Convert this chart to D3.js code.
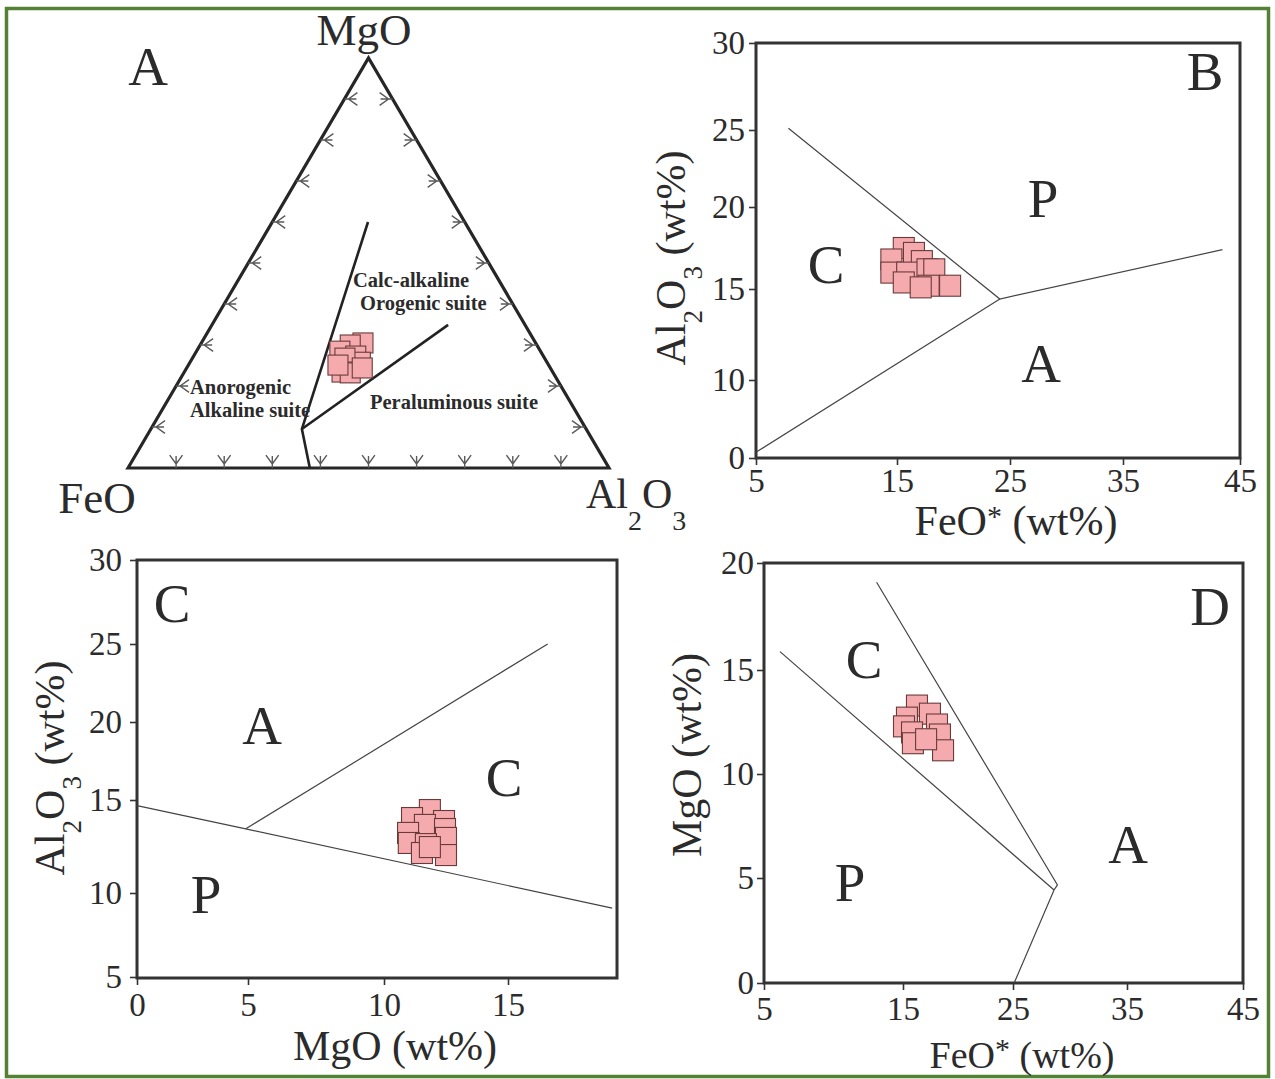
<!DOCTYPE html>
<html><head><meta charset="utf-8">
<script src="https://cdn.jsdelivr.net/npm/d3@7"></script>
<style>
body{margin:0;background:#fff}
svg{display:block}
text{font-family:"Liberation Serif","Times New Roman",serif;fill:#2b2b2b}
</style>
</head><body>
<svg id="c" width="1275" height="1079"></svg>
<script>
// ---------------- DATA ----------------
// Panel A: ternary FeO - MgO - Al2O3 (percent)
const ternFeO   = [35.9, 38.8, 41.7, 39.0, 38.8, 41.5, 43.8, 42.2, 39.1, 43.8];
const ternMgO   = [30.5, 30.0, 28.5, 27.3, 25.8, 26.8, 23.4, 23.2, 24.4, 25.1];
const ternAl2O3 = [33.6, 31.2, 29.8, 33.7, 35.4, 31.7, 32.8, 34.6, 36.5, 31.1];
// ternary boundaries [FeO, MgO, Al2O3]
const ternLine1 = [[20.1, 60.0, 19.9], [59.1, 9.5, 31.4], [62.2, 0, 37.8]];
const ternLine2 = [[59.1, 9.5, 31.4], [16.0, 34.9, 49.1]];
const ternTickSteps = [10, 20, 30, 40, 50, 60, 70, 80, 90];
const ternRegionLabels = ["Calc-alkaline", "Orogenic suite", "Anorogenic", "Alkaline suite", "Peraluminous suite"];

// Panel B: FeO* vs Al2O3
const bFeO   = [15.6, 16.5, 14.6, 17.2, 14.6, 15.9, 17.7, 18.3, 15.6, 17.8, 19.7, 17.1];
const bAl2O3 = [17.5, 17.2, 16.8, 16.7, 16.0, 16.0, 16.2, 16.2, 15.4, 15.2, 15.2, 15.1];
const bLineUpper = [[7.3, 25.1], [24.1, 14.45], [43.5, 17.4]];
const bLineLower = [[5.05, 0.8], [24.1, 14.45]];
const bXTicks = [5, 15, 25, 35, 45];
const bYTicks = [0, 10, 15, 20, 25, 30];
const bFields = ["B", "P", "C", "A"];

// Panel C: MgO vs Al2O3
const cMgO   = [11.85, 11.13, 12.42, 11.65, 10.97, 12.46, 12.5, 11.0, 11.69, 11.53, 12.5, 11.85];
const cAl2O3 = [14.46, 14.03, 13.87, 13.66, 13.23, 13.44, 12.96, 12.69, 12.63, 12.15, 12.04, 12.47];
const cLineMain = [[0, 14.7], [4.9, 13.45], [19.2, 9.1]];
const cLineBranch = [[4.9, 13.45], [16.6, 25.0]];
const cXTicks = [0, 5, 10, 15];
const cYTicks = [5, 10, 15, 20, 25, 30];
const cFields = ["C", "A", "C", "P"];

// Panel D: FeO* vs MgO
const dFeO = [16.27, 17.45, 15.36, 15.09, 18.09, 15.82, 18.36, 15.9, 18.64, 17.1];
const dMgO = [13.29, 12.9, 12.71, 12.29, 12.38, 12.0, 11.9, 11.48, 11.14, 11.67];
const dLineUpper = [[13.1, 19.1], [28.9, 4.67], [28.6, 4.43], [25.1, 0]];
const dLineLower = [[6.15, 15.86], [28.6, 4.43]];
const dXTicks = [5, 15, 25, 35, 45];
const dYTicks = [0, 5, 10, 15, 20];
const dFields = ["D", "C", "P", "A"];

// ---------------- STYLE ----------------
const markFill = "#f5abad", markStroke = "#6a3a3a";
const frameColor = "#333", lineColor = "#444";
const tickFont = 33, titleFont = 42, letterFont = 55;

const svg = d3.select("#c");

// outer green border
svg.append("rect").attr("x", 6.5).attr("y", 8.5).attr("width", 1262).attr("height", 1068)
  .attr("fill", "none").attr("stroke", "#548235").attr("stroke-width", 3.5);

function squares(g, pts, px, py, size) {
  g.selectAll(null).data(pts).join("rect")
    .attr("x", d => px(d) - size / 2).attr("y", d => py(d) - size / 2)
    .attr("width", size).attr("height", size)
    .attr("fill", markFill).attr("stroke", markStroke).attr("stroke-width", 1.1);
}

function styleAxis(ax, size) {
  ax.select(".domain").remove();
  ax.selectAll(".tick line").attr("stroke", frameColor).attr("stroke-width", 1.6);
  ax.selectAll(".tick text").attr("font-size", size).attr("fill", "#3a3a3a")
    .attr("font-family", "Liberation Serif, serif");
}

function formulaAl(t, sub, drop) {
  t.append("tspan").text("Al");
  t.append("tspan").attr("font-size", sub + "px").attr("dy", drop).text("2");
  t.append("tspan").attr("dy", -drop).text("O");
  t.append("tspan").attr("font-size", sub + "px").attr("dy", drop).text("3");
}

// ---------------- PANEL A (ternary) ----------------
const gA = svg.append("g");
const tX = d3.scaleLinear().domain([0, 100]).range([128, 609]);
const tY = d3.scaleLinear().domain([0, 100]).range([468, 58]);
function tern(fe, mg, al) {
  const s = fe + mg + al, a = al / s * 100, m = mg / s * 100;
  return [tX(a + m / 2), tY(m)];
}
const corners = [tern(100, 0, 0), tern(0, 100, 0), tern(0, 0, 100)];
gA.append("path").attr("d", d3.line()(corners) + "Z")
  .attr("fill", "none").attr("stroke", "#262626").attr("stroke-width", 3.2).attr("stroke-linejoin", "miter");

// ticks (small Y-like marks)
function ternTick(p, dir) {
  const [px, py] = p, [dx, dy] = dir;
  const rot = (a) => [dx * Math.cos(a) - dy * Math.sin(a), dx * Math.sin(a) + dy * Math.cos(a)];
  const v = [px + dx * 4, py + dy * 4];
  const r1 = rot(0.62), r2 = rot(-0.62);
  const path = `M${px},${py}L${px + dx * 12},${py + dy * 12}` +
    `M${v[0] + r1[0] * 11},${v[1] + r1[1] * 11}L${v[0]},${v[1]}L${v[0] + r2[0] * 11},${v[1] + r2[1] * 11}`;
  gA.append("path").attr("d", path).attr("fill", "none").attr("stroke", "#5a5a5a").attr("stroke-width", 1.4);
}
ternTickSteps.forEach(k => {
  ternTick(tern(100 - k, k, 0), [1, 0]);
  ternTick(tern(100 - k, 0, k), [0, -1]);
  ternTick(tern(0, k, 100 - k), [-1, 0]);
});

const ternPath = d3.line().x(d => tern(...d)[0]).y(d => tern(...d)[1]);
[ternLine1, ternLine2].forEach(l => gA.append("path").attr("d", ternPath(l))
  .attr("fill", "none").attr("stroke", "#222").attr("stroke-width", 2.6));

const ternPts = ternFeO.map((f, i) => [f, ternMgO[i], ternAl2O3[i]]);
squares(gA, ternPts, d => tern(...d)[0], d => tern(...d)[1], 20);

const regionPos = [[353, 287], [360, 310], [190, 394], [190, 417], [370, 409]];
ternRegionLabels.forEach((s, i) => gA.append("text").attr("x", regionPos[i][0]).attr("y", regionPos[i][1])
  .attr("font-size", 20.5).attr("font-weight", "bold").attr("fill", "#333").text(s));

gA.append("text").attr("x", 148).attr("y", 85).attr("text-anchor", "middle").attr("font-size", letterFont).text("A");
gA.append("text").attr("x", 364).attr("y", 45).attr("text-anchor", "middle").attr("font-size", 45).text("MgO");
gA.append("text").attr("x", 97).attr("y", 513).attr("text-anchor", "middle").attr("font-size", 45).text("FeO");
formulaAl(gA.append("text").attr("x", 586).attr("y", 508).attr("font-size", 42), 28, 22);

// ---------------- generic XY panel ----------------
function panel(cfg) {
  const g = svg.append("g");
  const x = d3.scaleLinear().domain(cfg.xTicks).range(cfg.xRange);
  const y = d3.scaleLinear().domain(cfg.yTicks).range(cfg.yRange);
  const [x0, x1] = cfg.box[0], [y0, y1] = cfg.box[1];
  const ax = g.append("g").attr("transform", `translate(0,${y1})`)
    .call(d3.axisBottom(x).tickValues(cfg.xTicks).tickSize(7).tickPadding(cfg.xPad).tickFormat(d3.format("d")));
  styleAxis(ax, tickFont);
  const ay = g.append("g").attr("transform", `translate(${x0},0)`)
    .call(d3.axisLeft(y).tickValues(cfg.yTicks).tickSize(7).tickPadding(cfg.yPad).tickFormat(d3.format("d")));
  styleAxis(ay, tickFont);
  g.append("rect").attr("x", x0).attr("y", y0).attr("width", x1 - x0).attr("height", y1 - y0)
    .attr("fill", "none").attr("stroke", frameColor).attr("stroke-width", 3);
  const line = d3.line().x(d => x(d[0])).y(d => y(d[1]));
  cfg.lines.forEach(l => g.append("path").attr("d", line(l)).attr("fill", "none")
    .attr("stroke", lineColor).attr("stroke-width", 1.2));
  squares(g, cfg.px.map((v, i) => [v, cfg.py[i]]), d => x(d[0]), d => y(d[1]), 21);
  cfg.fields.forEach((f, i) => g.append("text").attr("x", cfg.fieldPos[i][0]).attr("y", cfg.fieldPos[i][1])
    .attr("text-anchor", "middle").attr("font-size", letterFont).text(f));
  const xt = g.append("text").attr("x", cfg.xTitlePos[0]).attr("y", cfg.xTitlePos[1])
    .attr("text-anchor", "middle").attr("font-size", cfg.xTitleSize || titleFont);
  cfg.xTitle(xt);
  const yt = g.append("text").attr("transform", `translate(${cfg.yTitlePos[0]},${cfg.yTitlePos[1]}) rotate(-90)`)
    .attr("text-anchor", "middle").attr("font-size", titleFont);
  cfg.yTitle(yt);
  return g;
}
function feoTitle(t) {
  t.append("tspan").text("FeO");
  t.append("tspan").attr("font-size", "30px").attr("dy", -9).text("*");
  t.append("tspan").attr("dy", 9).text(" (wt%)");
}
function alTitle(t) { formulaAl(t, 27, 17); t.append("tspan").attr("dy", -17).text(" (wt%)"); }
function mgTitle(t) { t.text("MgO (wt%)"); }

panel({
  box: [[756, 1240], [43, 458]],
  xTicks: bXTicks, xRange: [756, 897, 1010, 1123, 1240],
  yTicks: bYTicks, yRange: [458, 380, 289, 207, 130, 43],
  xPad: 4, yPad: 4,
  lines: [bLineUpper, bLineLower], px: bFeO, py: bAl2O3,
  fields: bFields, fieldPos: [[1205, 90], [1043, 217], [826, 283], [1041, 382]],
  xTitlePos: [1016, 535], xTitle: feoTitle,
  yTitlePos: [685, 258], yTitle: alTitle
});

panel({
  box: [[137, 617], [560, 978]],
  xTicks: cXTicks, xRange: [137, 248, 384, 508],
  yTicks: cYTicks, yRange: [977, 893, 800, 722, 644, 560],
  xPad: 8, yPad: 8,
  lines: [cLineMain, cLineBranch], px: cMgO, py: cAl2O3,
  fields: cFields, fieldPos: [[172, 622], [262, 744], [504, 796], [206, 913]],
  xTitlePos: [395, 1060], xTitle: mgTitle,
  yTitlePos: [64, 768], yTitle: alTitle
});

panel({
  box: [[764, 1243], [563, 983]],
  xTicks: dXTicks, xRange: [764, 903, 1013, 1127, 1243],
  yTicks: dYTicks, yRange: [983, 878, 774, 670, 563],
  xPad: 7, yPad: 3,
  lines: [dLineUpper, dLineLower], px: dFeO, py: dMgO,
  fields: dFields, fieldPos: [[1210, 625], [864, 678], [850, 901], [1128, 863]],
  xTitlePos: [1022, 1068], xTitleSize: 38, xTitle: feoTitle,
  yTitlePos: [701, 755], yTitle: mgTitle
});
</script>
</body></html>
